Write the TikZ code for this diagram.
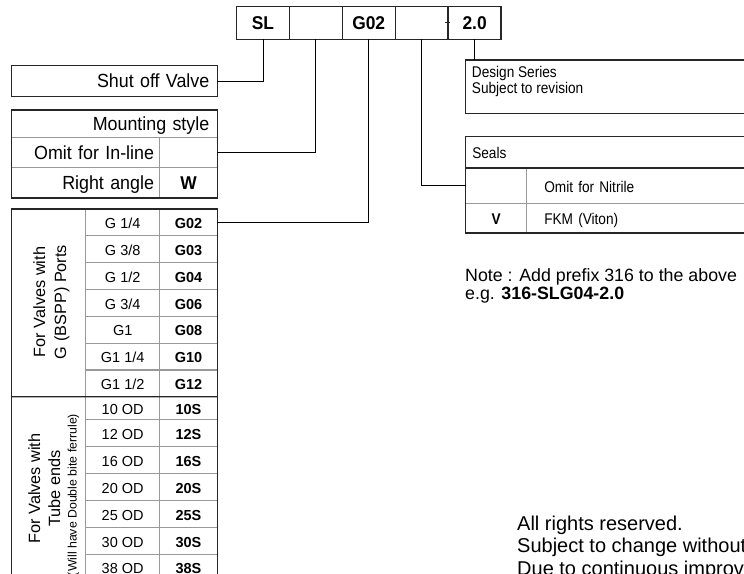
\documentclass[tikz,border=0pt]{standalone}
\usepackage{fontspec}
\setmainfont{Liberation Sans}
\newfontfamily\lblf{Liberation Sans}[FakeStretch=0.94]
\newfontfamily\rtf{Liberation Sans}[FakeStretch=0.88]
\newcommand\fsz[1]{\fontsize{#1}{#1}\selectfont}
\newcommand\tabrow[6]{%
  \node[cellbox, minimum width=74pt, minimum height=#3, cellfont] (#1a) at (122.7,#2) {#4};
  \node[cellbox, minimum width=57.6pt, minimum height=#3, boldcell] (#1c) at (188.5,#2) {#5};}
\begin{document}
\begin{tikzpicture}[x=1pt,y=-1pt,
  darkline/.style={draw=black!85, line width=1.1pt},
  gridline/.style={draw=black!40, line width=0.8pt},
  cellbox/.style={gridline, inner sep=0pt, outer sep=0pt},
  conn/.style={draw=black, line width=0.9pt},
  labelfont/.style={font={\lblf\fsz{19}}, text height=13.6pt, text depth=0pt},
  cellfont/.style={font={\fsz{14.5}}, text height=12.4pt, text depth=0pt},
  boldcell/.style={font={\fsz{14.5}\bfseries}, text height=12.4pt, text depth=0pt},
  rfont/.style={font={\rtf\fsz{15.5}}, text height=13.1pt, text depth=0pt},
  rbold/.style={font={\rtf\fsz{15.5}\bfseries}, text height=13.1pt, text depth=0pt},
  codebox/.style={darkline, inner sep=0pt, outer sep=0pt, minimum width=52.7pt,
    minimum height=32.6pt, font={\lblf\fsz{18.5}\bfseries}, text height=13.3pt, text depth=0pt},
  vtext/.style={rotate=90, anchor=base, inner sep=0pt},
  plaintext/.style={anchor=base west, inner sep=0pt}
]
\useasboundingbox (0,0) rectangle (744,573);
\clip (0,0) rectangle (744,573);

% code bar
\node[codebox] (b1) at (263,23) {SL};
\node[codebox] (b2) at (315.8,23) {};
\node[codebox] (b3) at (368.7,23) {G02};
\node[codebox] (b4) at (421.6,23) {};
\node[codebox] (b5) at (474.6,23) {2.0};
\draw[darkline] ([xshift=-2.5pt,yshift=0.7pt]b4.east) -- ([xshift=2.5pt,yshift=0.7pt]b4.east);

% shut off valve
\node[cellbox, darkline, minimum height=31.4pt, text width=189.6pt, inner xsep=8pt,
  align=right, labelfont] (shut) at (114.5,81) {Shut off Valve};

% mounting style
\node[cellbox, minimum height=27pt, text width=189.6pt, inner xsep=8pt, align=right,
  labelfont] (m0) at (114.5,123.5) {Mounting style};
\node[cellbox, minimum height=30.5pt, text width=136.6pt, inner xsep=5.7pt, align=right,
  labelfont] (m1l) at (85.7,152.25) {Omit for In-line};
\node[cellbox, minimum width=57.6pt, minimum height=30.5pt, labelfont] (m1r) at (188.5,152.25) {};
\node[cellbox, minimum height=30.5pt, text width=136.6pt, inner xsep=5.7pt, align=right,
  labelfont] (m2l) at (85.7,182.75) {Right angle};
\node[cellbox, minimum width=57.6pt, minimum height=30.5pt, labelfont,
  font={\lblf\fsz{18.5}\bfseries}] (m2r) at (188.5,182.75) {W};
\draw[darkline] (m0.north west) rectangle (m2r.south east);

% G ports
\node[cellbox, minimum width=74pt, minimum height=187.7pt] (gl) at (48.7,302.85) {};
\tabrow{g1}{222.4}{26.81pt}{G 1/4}{G02}{}
\tabrow{g2}{249.22}{26.81pt}{G 3/8}{G03}{}
\tabrow{g3}{276.03}{26.81pt}{G 1/2}{G04}{}
\tabrow{g4}{302.85}{26.81pt}{G 3/4}{G06}{}
\tabrow{g5}{329.66}{26.81pt}{G1}{G08}{}
\tabrow{g6}{356.48}{26.81pt}{G1 1/4}{G10}{}
\tabrow{g7}{383.3}{26.81pt}{G1 1/2}{G12}{}
\node[vtext, font={\fsz{16.3}}] (gt1) at (45,302) {For Valves with};
\node[vtext, font={\fsz{16.3}}] (gt2) at (66,302) {G (BSPP) Ports};

% tube ends
\node[cellbox, minimum width=74pt, minimum height=184.5pt] (tl) at (48.7,488.95) {};
\tabrow{t1}{408}{22.6pt}{10 OD}{10S}{}
\tabrow{t2}{432.9}{27.2pt}{12 OD}{12S}{}
\tabrow{t3}{460}{27pt}{16 OD}{16S}{}
\tabrow{t4}{487.05}{27.1pt}{20 OD}{20S}{}
\tabrow{t5}{514}{26.8pt}{25 OD}{25S}{}
\tabrow{t6}{540.85}{26.9pt}{30 OD}{30S}{}
\tabrow{t7}{567.75}{26.9pt}{38 OD}{38S}{}
\node[vtext, font={\fsz{16.3}}] (tt1) at (40,488.5) {For Valves with};
\node[vtext, font={\fsz{16.3}}] (tt2) at (60,488.5) {Tube ends};
\node[vtext, font={\fsz{12.3}}] (tt3) at (76.5,495) {(Will have Double bite ferrule)};
\draw[darkline] (gl.south west) -- (g7c.south east);
\draw[darkline] (gl.north west) rectangle (t7c.south east);

% design series
\node[cellbox, darkline, minimum width=304.3pt, minimum height=53.3pt] (design) at (617.85,86.65) {};
\node[plaintext, font={\rtf\fsz{15.5}}] (ds1) at (471.7,77) {Design Series};
\node[plaintext, font={\rtf\fsz{15.5}}] (ds2) at (471.7,93.5) {Subject to revision};

% seals
\node[cellbox, minimum height=31.5pt, text width=291.1pt, inner xsep=6.6pt, align=left,
  rfont] (s0) at (617.85,152.25) {Seals};
\node[cellbox, minimum width=61pt, minimum height=35pt, rfont] (s1l) at (496.2,185.5) {};
\node[cellbox, minimum height=35pt, text width=208.1pt, inner xsep=17.6pt, align=left,
  rfont] (s1r) at (648.35,185.5) {Omit for Nitrile};
\node[cellbox, minimum width=61pt, minimum height=30pt, rbold] (s2l) at (496.2,218) {V};
\node[cellbox, minimum height=30pt, text width=208.1pt, inner xsep=17.6pt, align=left,
  rfont] (s2r) at (648.35,218) {FKM (Viton)};
\draw[darkline] (s0.south west) -- (s0.south east);
\draw[darkline] (s0.north west) rectangle (s2r.south east);

% notes
\node[plaintext, font={\fsz{17.8}}] (note1) at (465,281.7) {Note : Add prefix 316 to the above};
\node[plaintext, font={\fsz{17.8}}] (note2) at (465,299.5) {e.g. \textbf{316-SLG04-2.0}};
\node[plaintext, font={\fsz{20}}] (r1) at (517,530) {All rights reserved.};
\node[plaintext, font={\fsz{20}}] (r2) at (517,552) {Subject to change without notice.};
\node[plaintext, font={\fsz{20}}] (r3) at (517,575) {Due to continuous improvement};

% connectors
\draw[conn] (b1.south) |- (shut.east);
\draw[conn] (b2.south) |- (m1r.east);
\draw[conn] (b3.south) |- (g1c.east);
\draw[conn] (b4.south) |- (s1l.west);
\draw[conn] (b5.south) -- (b5.south |- design.north);
\end{tikzpicture}
\end{document}
